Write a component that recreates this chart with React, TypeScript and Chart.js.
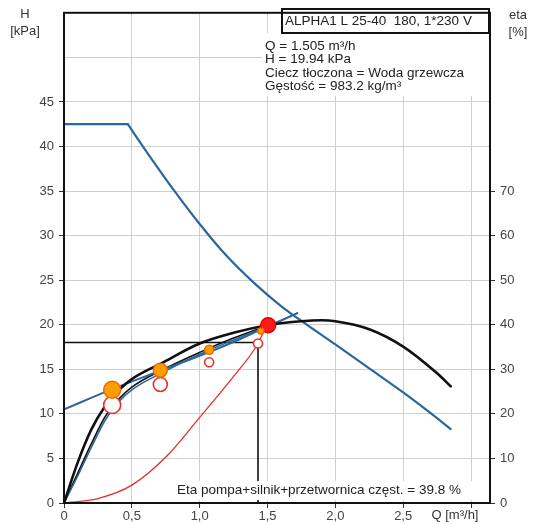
import React, { useEffect, useRef } from 'react';
import { Chart, registerables } from 'chart.js';

Chart.register(...registerables);

const FONT = '"Liberation Sans", Arial, sans-serif';

// Pump curve (max), H [kPa] vs Q [m3/h] — flat part and falling part
const pumpFlatQ = [0, 0.47];
const pumpFlatH = [42.5, 42.5];
const pumpQ = [0.47, 0.6, 0.8, 1.0, 1.2, 1.4, 1.6, 1.8, 2.0, 2.25, 2.5, 2.7, 2.85];
const pumpH = [42.5, 39.6, 35.3, 31.3, 27.7, 24.7, 22.1, 19.9, 17.8, 15.1, 12.4, 10.1, 8.3];

// Rising blue curve (from 10.5 kPa)
const riseQ = [0, 0.36, 0.72, 1.08, 1.3, 1.5, 1.72];
const riseH = [10.5, 12.8, 14.9, 17.0, 18.4, 19.8, 21.3];

// Blue curve from origin
const blueOQ = [0, 0.1, 0.2, 0.3, 0.4, 0.5, 0.72, 1.0, 1.25, 1.5, 1.72];
const blueOH = [0, 3.0, 6.2, 9.2, 11.3, 12.7, 14.6, 16.7, 18.3, 19.8, 21.3];

// Thin black curve from origin
const blackQ = [0, 0.1, 0.2, 0.3, 0.4, 0.5, 0.72, 1.0, 1.25, 1.5];
const blackH = [0, 3.3, 6.6, 9.6, 11.6, 13.0, 14.9, 16.9, 18.5, 19.9];

// Efficiency curve, eta [%] vs Q
const etaQ = [0, 0.1, 0.2, 0.3, 0.4, 0.5, 0.72, 1.0, 1.25, 1.5, 1.75, 1.9, 2.0, 2.25, 2.5, 2.75, 2.85];
const etaV = [0, 9, 16.4, 21.6, 25.2, 27.8, 31.4, 35.8, 38.2, 39.9, 40.8, 41.0, 40.8, 39.0, 35.1, 29.1, 26.2];

// Red system curve
const sysQ = [0, 0.25, 0.5, 0.76, 1.0, 1.25, 1.43, 1.47];
const sysH = [0, 0.5, 2.0, 5.3, 9.6, 14.2, 17.9, 19.2];

// Duty reference lines
const dutyLineQ = [0, 1.43, 1.43];
const dutyLineH = [18, 18, 0];

// Markers
const orangeQ = [0.355, 0.71, 1.07, 1.45];
const orangeH = [12.7, 14.9, 17.2, 19.3];
const orangeR = [8.5, 7, 4.5, 3];
const redOpenQ = [0.355, 0.71, 1.07, 1.43];
const redOpenH = [11.0, 13.3, 15.8, 17.9];
const redOpenR = [8.5, 7, 4.5, 4.5];
const dutyQ = [1.505];
const dutyH = [19.94];

const xTicks = [0, 0.5, 1.0, 1.5, 2.0, 2.5];
const title = 'ALPHA1 L 25-40  180, 1*230 V';
const infoLines = ['Q = 1.505 m³/h', 'H = 19.94 kPa', 'Ciecz tłoczona = Woda grzewcza', 'Gęstość = 983.2 kg/m³'];
const etaNote = 'Eta pompa+silnik+przetwornica częst. = 39.8 %';

const pts = (qs: number[], hs: number[]) => qs.map((q, i) => ({ x: q, y: hs[i] }));

const BLUE = '#2a679b';

const overlay = {
  id: 'overlay',
  afterDraw(chart: any) {
    const { ctx, chartArea: a } = chart;
    ctx.save();
    ctx.fillStyle = '#fff';
    ctx.fillRect(262, 33, a.right - 263, 63);
    ctx.fillRect(175, 481, 297, 19);
    ctx.fillStyle = '#222';
    ctx.font = `13.5px ${FONT}`;
    ctx.textBaseline = 'middle';
    ctx.textAlign = 'left';
    infoLines.forEach((t, i) => ctx.fillText(t, 265, 46 + i * 13.4));
    ctx.fillText(etaNote, 177, 490);
    // header box
    ctx.fillStyle = '#fff';
    ctx.fillRect(282, 9, a.right - 283, 24);
    ctx.strokeStyle = '#111';
    ctx.lineWidth = 2;
    ctx.strokeRect(282, 9, a.right - 283, 24);
    ctx.fillStyle = '#222';
    ctx.fillText(title, 285, 21);
    // plot border
    ctx.strokeRect(a.left, a.top, a.right - a.left, a.bottom - a.top);
    // axis titles
    ctx.font = `13px ${FONT}`;
    ctx.textAlign = 'center';
    ctx.fillStyle = '#333';
    ctx.fillText('H', 25, 14);
    ctx.fillText('[kPa]', 25, 31);
    ctx.fillText('eta', 518, 15);
    ctx.fillText('[%]', 518, 32);
    ctx.fillText('Q [m³/h]', 455, 515);
    ctx.restore();
  },
};

export default function App() {
  const ref = useRef<HTMLCanvasElement>(null);
  useEffect(() => {
    const lineDs = (data: any, color: string, width: number, extra: any = {}) => ({
      type: 'line',
      data,
      borderColor: color,
      borderWidth: width,
      pointRadius: 0,
      fill: false,
      tension: 0.4,
      cubicInterpolationMode: 'monotone',
      borderCapStyle: 'round',
      borderJoinStyle: 'round',
      order: 5,
      ...extra,
    });
    const chart = new Chart(ref.current!, {
      type: 'line',
      data: {
        datasets: [
          lineDs(pts(sysQ, sysH), '#e8302a', 1.3, { order: 6 }),
          lineDs(pts(dutyLineQ, dutyLineH), '#111', 1.6, { tension: 0, cubicInterpolationMode: 'default', borderJoinStyle: 'miter', order: 6 }),
          lineDs(pts(pumpFlatQ, pumpFlatH), BLUE, 2.2, { tension: 0, cubicInterpolationMode: 'default' }),
          lineDs(pts(pumpQ, pumpH), BLUE, 2.2),
          lineDs(pts(riseQ, riseH), BLUE, 2),
          lineDs(pts(blueOQ, blueOH), BLUE, 1.6),
          lineDs(pts(blackQ, blackH), '#111', 1.6),
          lineDs(pts(etaQ, etaV), '#111', 2.6, { yAxisID: 'y2', order: 4 }),
          {
            type: 'scatter',
            data: pts(redOpenQ, redOpenH),
            pointRadius: redOpenR,
            pointBackgroundColor: '#fff',
            pointBorderColor: '#e8302a',
            pointBorderWidth: 1.6,
            showLine: false,
            order: 1,
          },
          {
            type: 'scatter',
            data: pts(orangeQ, orangeH),
            pointRadius: orangeR,
            pointBackgroundColor: '#ff9d00',
            pointBorderColor: '#ef6a00',
            pointBorderWidth: 1.5,
            showLine: false,
            order: 0,
          },
          {
            type: 'scatter',
            data: pts(dutyQ, dutyH),
            pointRadius: 7.5,
            pointBackgroundColor: '#ff1a1a',
            pointBorderColor: '#e00000',
            pointBorderWidth: 1.5,
            showLine: false,
            order: 0,
          },
        ] as any,
      },
      options: {
        responsive: false,
        devicePixelRatio: 1,
        animation: false,
        layout: { padding: { top: 8, left: 0, right: 0, bottom: 0 } },
        plugins: { legend: { display: false }, tooltip: { enabled: false } },
        scales: {
          x: {
            type: 'linear',
            min: 0,
            max: 3.14,
            afterFit: (s: any) => { s.height = 21; },
            afterBuildTicks: (s: any) => { s.ticks = [...xTicks, 3].map((v) => ({ value: v })); },
            ticks: {
              autoSkip: false,
              includeBounds: false,
              padding: 1,
              color: '#444',
              font: { family: FONT, size: 13 },
              maxRotation: 0,
              callback: (v: any) => (v === 3 ? '' : v === 0 ? '0' : Number(v).toFixed(1).replace('.', ',')),
            },
            grid: { color: '#cfcfcf', lineWidth: 1, tickLength: 5, tickColor: '#333' },
            border: { display: false },
          },
          y: {
            type: 'linear',
            position: 'left',
            min: 0,
            max: 55,
            afterFit: (s: any) => { s.width = 64; },
            ticks: {
              stepSize: 5,
              autoSkip: false,
              padding: 5,
              color: '#444',
              font: { family: FONT, size: 13 },
              callback: (v: any) => (v <= 45 ? String(v) : ''),
            },
            grid: {
              color: '#cfcfcf',
              lineWidth: 1,
              tickLength: 5,
              tickColor: (c: any) => (c.tick && c.tick.value <= 45 ? '#333' : 'rgba(0,0,0,0)'),
            },
            border: { display: false },
          },
          y2: {
            type: 'linear',
            position: 'right',
            min: 0,
            max: 110,
            afterFit: (s: any) => { s.width = 46; },
            ticks: {
              stepSize: 10,
              autoSkip: false,
              padding: 5,
              color: '#444',
              font: { family: FONT, size: 13 },
              callback: (v: any) => (v <= 70 ? String(v) : ''),
            },
            grid: {
              drawOnChartArea: false,
              tickLength: 5,
              tickColor: (c: any) => (c.tick && c.tick.value <= 70 ? '#333' : 'rgba(0,0,0,0)'),
            },
            border: { display: false },
          },
        },
      } as any,
      plugins: [overlay],
    });
    return () => chart.destroy();
  }, []);
  return (
    <div style={{ position: 'fixed', left: 0, top: 0, width: 536, height: 524, background: '#fff' }}>
      <canvas ref={ref} width={536} height={524} style={{ display: 'block' }} />
    </div>
  );
}
